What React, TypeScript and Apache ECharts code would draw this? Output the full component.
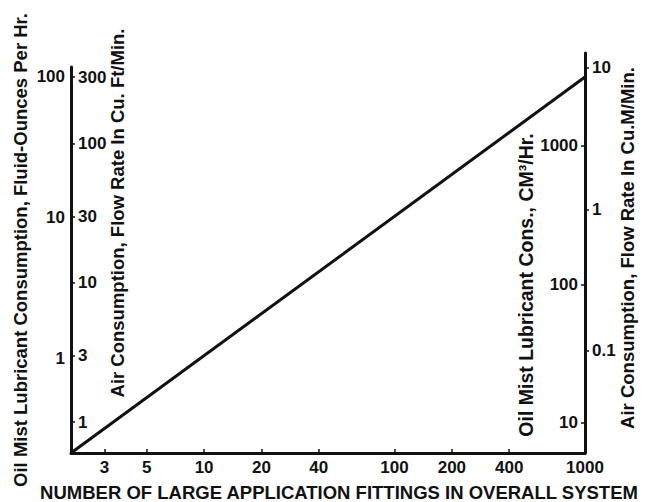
import React, { useEffect, useRef } from "react";
import * as echarts from "echarts";

// Data: number of fittings vs air consumption (cu ft/min), straight line on log-log paper
const fittings = [2, 1000];
const airCfm = [0.6, 300];

// Tick label values of each scale
const xTicks = [3, 5, 10, 20, 40, 100, 200, 400, 1000];
const ozTicks = [1, 10, 100];
const cfmTicks = [1, 3, 10, 30, 100, 300];
const cm3Ticks = [10, 100, 1000];
const m3Ticks = [0.1, 1, 10];

// Axis extents (actual values at bottom / top of each scale)
const xRange = [2, 1000];
const ozRange = [0.211, 117.8];
const cfmRange = [0.6, 354];
const cm3Range = [6.07, 4690];
const m3Range = [0.019, 12.76];

const titleLeftOuter = "Oil Mist Lubricant Consumption, Fluid-Ounces Per Hr.";
const titleLeftInner = "Air Consumption, Flow Rate In Cu. Ft/Min.";
const titleRightInner = "Oil Mist Lubricant Cons., CM³/Hr.";
const titleRightOuter = "Air Consumption, Flow Rate In Cu.M/Min.";
const titleX = "NUMBER OF LARGE APPLICATION FITTINGS IN OVERALL SYSTEM";

const L = (v: number) => Math.log10(v);
const FONT = "'Liberation Sans', Arial, Helvetica, sans-serif";
const INK = "#111";

const fmt = (v: number) => String(Number(Math.pow(10, v).toPrecision(2)));

const labelStyle = {
  color: INK,
  fontFamily: FONT,
  fontWeight: "bold" as const,
  fontSize: 17,
  formatter: fmt,
};

const lineNoZero = (show: boolean) => ({
  show,
  onZero: false,
  lineStyle: { color: INK, width: 3 },
});

export default function App() {
  const ref = useRef<HTMLDivElement>(null);
  useEffect(() => {
    if (!ref.current) return;
    const chart = echarts.init(ref.current, undefined, { renderer: "svg" });
    const titleStyle = (text: string, size = 18.5) => ({
      text,
      fill: INK,
      fontFamily: FONT,
      fontWeight: "bold",
      fontSize: size,
      align: "center",
      verticalAlign: "middle",
    });
    chart.setOption({
      animation: false,
      backgroundColor: "#fff",
      grid: [
        { left: 71, right: 69, top: 67, bottom: 49 },
        { left: 71, right: 69, top: 53, bottom: 49 },
      ],
      xAxis: [
        {
          gridIndex: 0,
          type: "value",
          min: L(xRange[0]),
          max: L(xRange[1]),
          axisLine: lineNoZero(true),
          axisTick: {
            show: true,
            inside: true,
            length: 4,
            lineStyle: { color: INK, width: 1.5 },
            customValues: xTicks.map(L),
          },
          axisLabel: { ...labelStyle, margin: 6, customValues: xTicks.map(L) },
          splitLine: { show: false },
        },
        {
          gridIndex: 1,
          type: "value",
          min: L(xRange[0]),
          max: L(xRange[1]),
          show: false,
        },
      ],
      yAxis: [
        {
          gridIndex: 0,
          type: "value",
          position: "left",
          min: L(ozRange[0]),
          max: L(ozRange[1]),
          axisLine: lineNoZero(true),
          axisTick: { show: false },
          axisLabel: { ...labelStyle, margin: 6, customValues: ozTicks.map(L) },
          splitLine: { show: false },
        },
        {
          gridIndex: 0,
          type: "value",
          position: "left",
          min: L(cfmRange[0]),
          max: L(cfmRange[1]),
          axisLine: lineNoZero(false),
          axisTick: {
            show: true,
            inside: true,
            length: 4,
            lineStyle: { color: INK, width: 1.5 },
            customValues: cfmTicks.map(L),
          },
          axisLabel: {
            ...labelStyle,
            inside: true,
            margin: 7,
            customValues: cfmTicks.map(L),
          },
          splitLine: { show: false },
        },
        {
          gridIndex: 1,
          type: "value",
          position: "right",
          min: L(cm3Range[0]),
          max: L(cm3Range[1]),
          axisLine: lineNoZero(true),
          axisTick: {
            show: true,
            inside: true,
            length: 4,
            lineStyle: { color: INK, width: 1.5 },
            customValues: cm3Ticks.map(L),
          },
          axisLabel: {
            ...labelStyle,
            inside: true,
            margin: 7,
            customValues: cm3Ticks.map(L),
          },
          splitLine: { show: false },
        },
        {
          gridIndex: 1,
          type: "value",
          position: "right",
          min: L(m3Range[0]),
          max: L(m3Range[1]),
          axisLine: lineNoZero(false),
          axisTick: {
            show: true,
            inside: false,
            length: 4,
            lineStyle: { color: INK, width: 1.5 },
            customValues: m3Ticks.map(L),
          },
          axisLabel: { ...labelStyle, margin: 7, customValues: m3Ticks.map(L) },
          splitLine: { show: false },
        },
      ],
      series: [
        {
          type: "line",
          xAxisIndex: 0,
          yAxisIndex: 1,
          data: fittings.map((n, i) => [L(n), L(airCfm[i])]),
          showSymbol: false,
          clip: false,
          lineStyle: { color: INK, width: 3 },
        },
      ],
      graphic: [
        { type: "text", x: 20, y: 250, rotation: Math.PI / 2, style: titleStyle(titleLeftOuter) },
        { type: "text", x: 117, y: 213, rotation: Math.PI / 2, style: titleStyle(titleLeftInner) },
        { type: "text", x: 526, y: 285, rotation: Math.PI / 2, style: titleStyle(titleRightInner, 19.5) },
        { type: "text", x: 627, y: 248, rotation: Math.PI / 2, style: titleStyle(titleRightOuter) },
        { type: "text", x: 339, y: 492, style: titleStyle(titleX) },
      ],
    });
    return () => chart.dispose();
  }, []);
  return (
    <div
      ref={ref}
      style={{ position: "absolute", left: 0, top: 0, width: 654, height: 502, background: "#fff" }}
    />
  );
}
